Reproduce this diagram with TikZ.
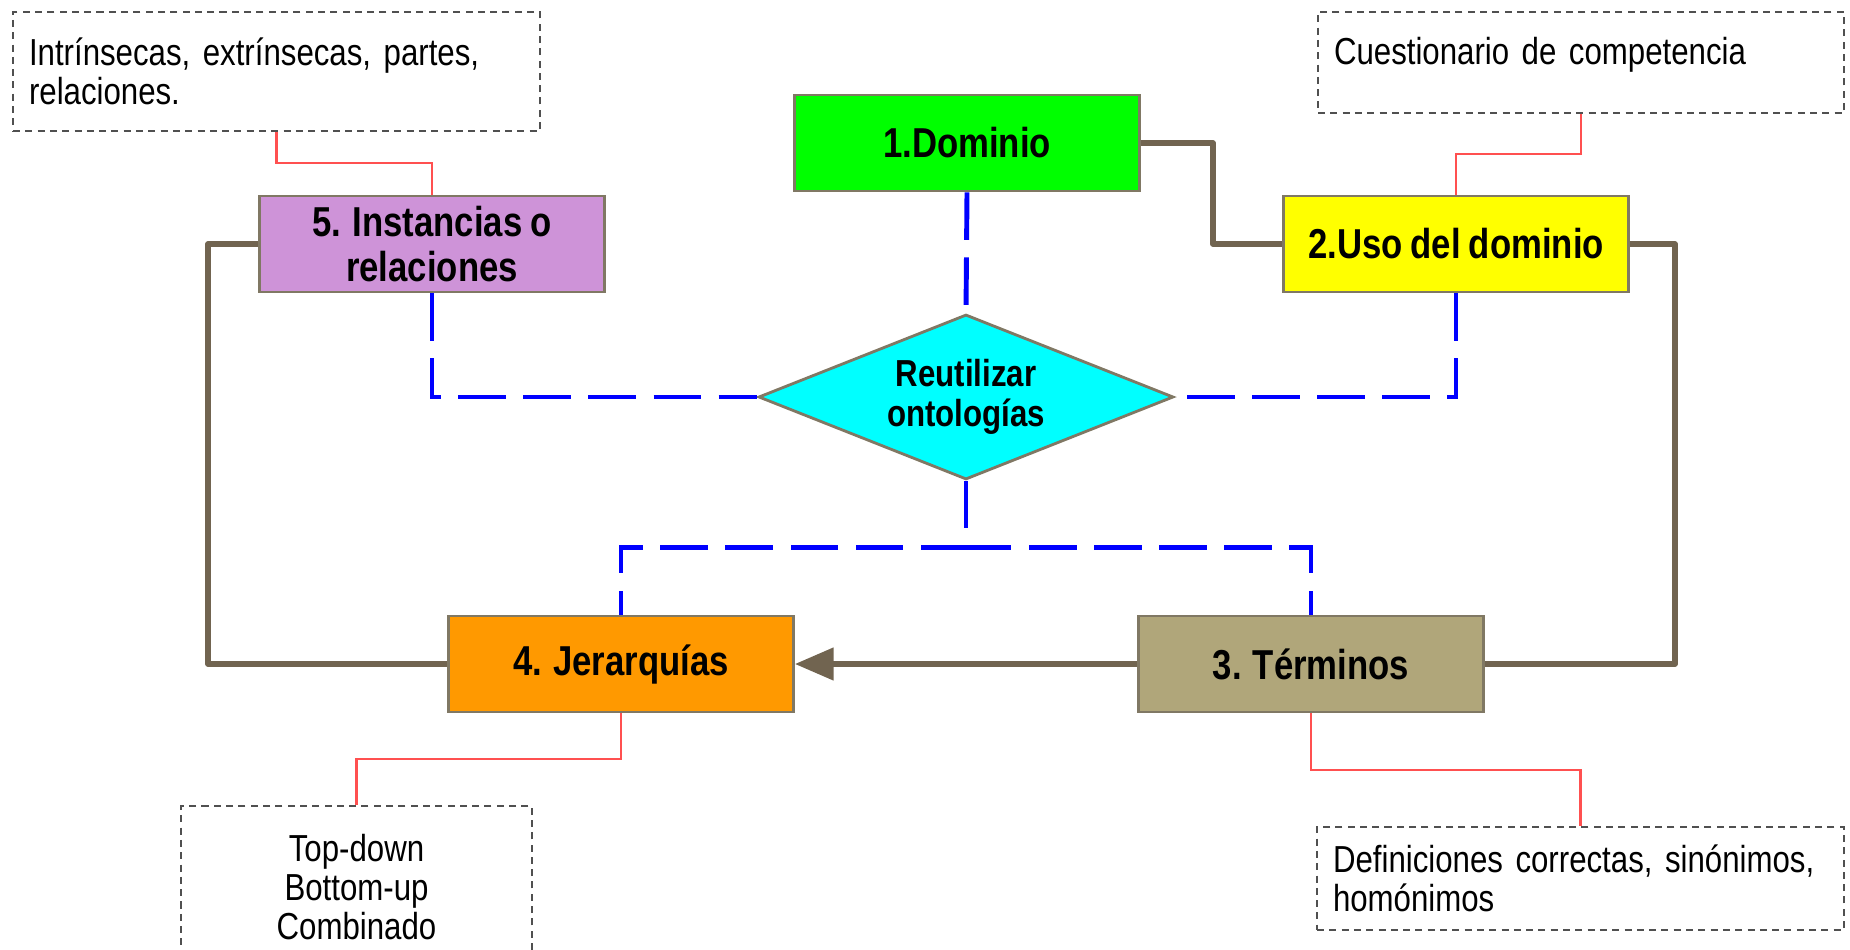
\documentclass[tikz,border=0pt]{standalone}
\usepackage{fontspec}
\setmainfont{Liberation Sans}[FakeStretch=0.83,WordSpace=0.83]
\usetikzlibrary{shapes.geometric,arrows.meta,calc}

\definecolor{lnbrown}{RGB}{113,100,80}
\definecolor{boxedge}{RGB}{128,120,100}
\definecolor{domcol}{RGB}{0,255,0}
\definecolor{usocol}{RGB}{255,255,0}
\definecolor{reucol}{RGB}{0,255,255}
\definecolor{instcol}{RGB}{206,147,216}
\definecolor{jercol}{RGB}{255,153,0}
\definecolor{tercol}{RGB}{176,166,122}
\definecolor{linkblue}{RGB}{0,0,255}
\definecolor{notered}{RGB}{255,80,80}
\definecolor{notegray}{RGB}{80,80,80}

\begin{document}
\begin{tikzpicture}[
  stage/.style={draw=boxedge,line width=0.8pt,minimum width=3.45cm,minimum height=0.96cm,
    inner sep=1pt,align=center,font=\fontsize{11.9}{13}\selectfont\bfseries},
  reuse/.style={draw=boxedge,line width=0.8pt,fill=reucol,diamond,aspect=2.5,inner sep=0pt,
    minimum width=4.15cm,minimum height=1.65cm,align=center,font=\fontsize{10.7}{11.4}\selectfont\bfseries},
  note/.style={draw=notegray,line width=0.6pt,dash pattern=on 2pt off 1.5pt,
    font=\fontsize{10.7}{11.2}\selectfont},
  flow/.style={draw=lnbrown,line width=1.6pt,line join=round},
  link/.style={draw=linkblue,line width=1.4pt,dash pattern=on 13.5pt off 5pt},
  hint/.style={draw=notered,line width=0.6pt}]

  \useasboundingbox (0,0) rectangle (18.5,-9.5);

  % the five steps and the central question

  \node [stage,fill=domcol] at (9.67,-1.43) (dom) {1.Dominio};
  \node [stage,fill=usocol] at (14.56,-2.44) (uso) {2.Uso del dominio};
  \node [stage,fill=tercol] at (13.11,-6.64) (ter) {3. Términos};
  \node [stage,fill=jercol] at (6.21,-6.64) (jer) {4. Jerarquías};
  \node [stage,fill=instcol] at (4.32,-2.44) (inst) {5. Instancias o\\relaciones};
  \node [reuse] at (9.66,-3.97) (reu) {Reutilizar\\ontologías};

  % notes

  \node [note,minimum width=5.27cm,minimum height=1.19cm,inner xsep=0.16cm,
    text width=4.95cm,align=left] at (2.765,-0.715) (n5)
    {Intrínsecas, extrínsecas, partes,\\relaciones.};
  \node [note,minimum width=5.26cm,minimum height=1.01cm,inner xsep=0.16cm,inner ysep=0.2cm,
    text width=4.94cm,align=left,text height=0.33cm,text depth=0.28cm] at (15.81,-0.625) (n2)
    {Cuestionario de competencia};
  \node [note,minimum width=3.51cm,minimum height=1.62cm,align=center] at (3.565,-8.87) (n4)
    {Top-down\\Bottom-up\\Combinado};
  \node [note,minimum width=5.27cm,minimum height=1.03cm,inner xsep=0.16cm,
    text width=4.95cm,align=left] at (15.805,-8.785) (n3)
    {Definiciones correctas, sinónimos,\\homónimos};

  % main sequence

  \draw [flow] (dom.east) -- ++(0.72,0) |- (uso.west);
  \draw [flow] (uso.east) -- ++(0.45,0) |- (ter.east);
  \draw [flow,-{Triangle[length=11pt,width=9pt]}] (ter.west) -- (jer.east);
  \draw [flow] (jer.west) -- ++(-2.39,0) |- (inst.west);

  % reuse of ontologies

  \draw [link] (dom.south) -- (reu.north);
  \draw [link] (inst.south) |- (reu.west);
  \draw [link] (uso.south) |- (reu.east);
  \draw [link] (reu.south) -- ++(0,-0.67) -| (jer.north);
  \draw [link] (reu.south) -- ++(0,-0.67) -| (ter.north);

  % notes to steps

  \draw [hint] (n5.south) |- ($(n5.south)!.5!(inst.north)$) -| (inst.north);
  \draw [hint] (n2.south) |- ($(n2.south)!.5!(uso.north)$) -| (uso.north);
  \draw [hint] (jer.south) |- ($(jer.south)!.5!(n4.north)$) -| (n4.north);
  \draw [hint] (ter.south) |- ($(ter.south)!.5!(n3.north)$) -| (n3.north);

\end{tikzpicture}
\end{document}
